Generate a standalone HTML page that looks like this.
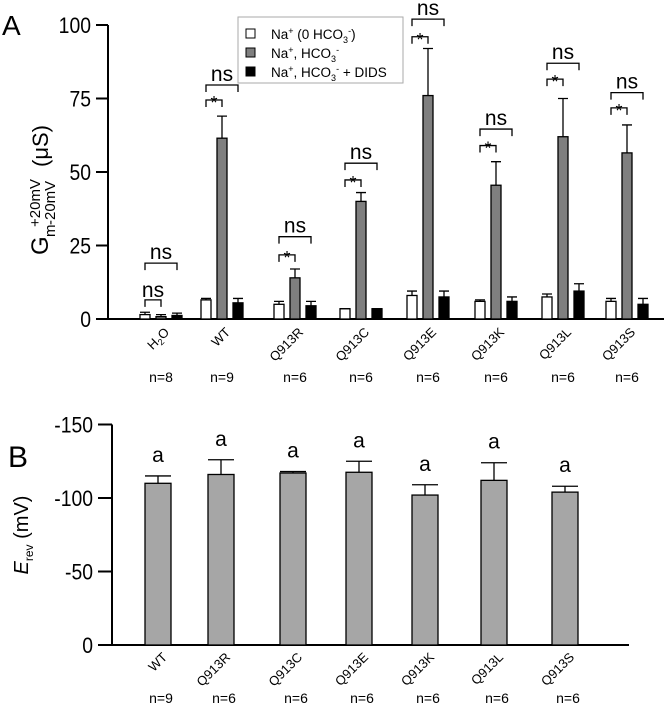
<!DOCTYPE html>
<html><head><meta charset="utf-8">
<style>
body{margin:0;background:#fff;}
svg{display:block;font-family:"Liberation Sans",Arial,sans-serif;}
</style></head>
<body>
<svg id="fig" width="666" height="709" viewBox="0 0 666 709">
<g id="A"></g>
<g id="B"></g>
</svg>
<script>
// Panel A data
const groupsA = ["H2O","WT","Q913R","Q913C","Q913E","Q913K","Q913L","Q913S"];
const nA = ["n=8","n=9","n=6","n=6","n=6","n=6","n=6","n=6"];
const whiteVals = [1.5,6.5,5,3.5,8,6,7.5,6];
const whiteErr = [2.3,7,6,3.5,9.5,6.5,8.5,7];
const grayVals = [0.8,61.5,14,40,76,45.5,62,56.5];
const grayErr = [1.5,69,17,43,92,53.5,75,66];
const blackVals = [1.2,5.5,4.5,3.5,7.5,6,9.5,5];
const blackErr = [2,7,6,3.5,9.5,7.5,12,7];
const starBracket = [6.5,74.5,21.8,47.3,96,59,81.6,71.8];
const nsBracket = [19,79.6,28,53,102,64.6,87,77];
const innerLabel = ["ns","*","*","*","*","*","*","*"];
const ticksA = [0,25,50,75,100];
// Panel B data
const groupsB = ["WT","Q913R","Q913C","Q913E","Q913K","Q913L","Q913S"];
const nB = ["n=9","n=6","n=6","n=6","n=6","n=6","n=6"];
const erevVals = [110,116,117,117.5,102,112,104];
const erevErr = [115,126,118,125,109,124,108];
const sigB = ["a","a","a","a","a","a","a"];
const ticksB = [0,-50,-100,-150];

const NS="http://www.w3.org/2000/svg";
function mk(parent,tag,attrs,text){const e=document.createElementNS(NS,tag);for(const k in attrs)e.setAttribute(k,attrs[k]);if(text!==undefined)e.textContent=text;parent.appendChild(e);return e;}

// ---- Panel A ----
const A=document.getElementById('A');
const yA=v=>319-v*2.94;
const centersA=[161,222,295,361,428,496,563,627];
const xA=i=>centersA[i];
let t;
t=mk(A,'text',{x:2,y:35,'font-size':28});t.textContent='A';

let ax=mk(A,'line',{x1:108,y1:yA(100),x2:108,y2:yA(0),stroke:'#000','stroke-width':2});

ax=mk(A,'line',{x1:96,y1:yA(0),x2:664,y2:yA(0),stroke:'#000','stroke-width':2});

ticksA.forEach(v=>{
  const l=mk(A,'line',{x1:96,y1:yA(v),x2:108,y2:yA(v),stroke:'#000','stroke-width':2});
  
  const tx=mk(A,'text',{x:91,y:yA(v)+8,'font-size':22,'text-anchor':'end',transform:`translate(${91*0.12},0) scale(0.88,1)`},String(v));
  
});
// y title
const yt=mk(A,'g',{transform:'translate(48,175) rotate(-90)'});

mk(yt,'text',{x:-80,y:0,'font-size':24},'G');
mk(yt,'text',{x:-62,y:7,'font-size':15},'m');
mk(yt,'text',{x:-52,y:-8,'font-size':15},'+20mV');
mk(yt,'text',{x:-50,y:7,'font-size':15},'-20mV');
mk(yt,'text',{x:8,y:0,'font-size':22},'(μS)');

function bar(g,x,w,v,err,fill,yfn,name){
  const top=Math.min(yfn(v),yfn(0)),h=Math.abs(yfn(v)-yfn(0));
  const r=mk(g,'rect',{x:x-w/2,y:top,width:w,height:h,fill:fill,stroke:'#000','stroke-width':1.3});
  
  const e=mk(g,'path',{d:`M${x},${yfn(v)}V${yfn(err)}M${x-w/2},${yfn(err)}H${x+w/2}`,stroke:'#000','stroke-width':1.3,fill:'none'});
  
}
groupsA.forEach((gname,i)=>{
  const c=xA(i);
  bar(A,c-16,10,whiteVals[i],whiteErr[i],'#fff',yA,'bar-no-hco3-'+gname.toLowerCase());
  bar(A,c,10,grayVals[i],grayErr[i],'#7f7f7f',yA,'bar-hco3-'+gname.toLowerCase());
  bar(A,c+16,10,blackVals[i],blackErr[i],'#000',yA,'bar-dids-'+gname.toLowerCase());
  const ys=yA(starBracket[i]),yn=yA(nsBracket[i]);
  const b1=mk(A,'path',{d:`M${c-16},${ys+7}V${ys}H${c}V${ys+7}`,stroke:'#000','stroke-width':1.3,fill:'none'});
  
  const star=innerLabel[i]==='*';
  const s1=mk(A,'text',{x:c-8,y:star?ys+9:ys-3,'font-size':star?18:21,'text-anchor':'middle'},innerLabel[i]);
  
  const b2=mk(A,'path',{d:`M${c-16},${yn+7}V${yn}H${c+16}V${yn+7}`,stroke:'#000','stroke-width':1.3,fill:'none'});
  
  const s2=mk(A,'text',{x:c,y:yn-4,'font-size':21,'text-anchor':'middle'},'ns');
  
  const lab=mk(A,'text',{transform:`translate(${c+9},${333}) rotate(-45)`,'font-size':13,'text-anchor':'end'});
  if(gname==='H2O'){lab.innerHTML='H<tspan font-size="9" dy="3">2</tspan><tspan dy="-3">O</tspan>';}else lab.textContent=gname;
  
  const nl=mk(A,'text',{x:c,y:382,'font-size':14,'text-anchor':'middle'},nA[i]);
  
});
// legend
const lg=mk(A,'g',{});

mk(lg,'rect',{x:238,y:17,width:165,height:66,fill:'#fff',stroke:'#aaa','stroke-width':1});
const legFill=['#fff','#7f7f7f','#000'];
const legText=['Na<tspan font-size="9" dy="-5">+</tspan><tspan dy="5">  (0 HCO</tspan><tspan font-size="9" dy="4">3</tspan><tspan font-size="9" dy="-9">-</tspan><tspan dy="5">)</tspan>',
'Na<tspan font-size="9" dy="-5">+</tspan><tspan dy="5">, HCO</tspan><tspan font-size="9" dy="4">3</tspan><tspan font-size="9" dy="-9">-</tspan>',
'Na<tspan font-size="9" dy="-5">+</tspan><tspan dy="5">, HCO</tspan><tspan font-size="9" dy="4">3</tspan><tspan font-size="9" dy="-9">-</tspan><tspan dy="5"> + DIDS</tspan>'];
[34,53,72].forEach((yy,k)=>{
  const e=mk(lg,'g',{});
  
  mk(e,'rect',{x:246,y:yy-5,width:9,height:9,fill:legFill[k],stroke:'#000','stroke-width':1});
  const tx=mk(e,'text',{x:271,y:yy+5,'font-size':13.5,'xml:space':'preserve'});tx.innerHTML=legText[k];
});

// ---- Panel B ----
const B=document.getElementById('B');
const yB=v=>645+v*1.47;
const centersB=[158,221,293,359,425,494,565];
t=mk(B,'text',{x:8,y:467,'font-size':30});t.textContent='B';

ax=mk(B,'line',{x1:112,y1:yB(-150),x2:112,y2:yB(0),stroke:'#000','stroke-width':2});

ax=mk(B,'line',{x1:98,y1:yB(0),x2:629,y2:yB(0),stroke:'#000','stroke-width':2});

ticksB.forEach(v=>{
  const l=mk(B,'line',{x1:98,y1:yB(v),x2:112,y2:yB(v),stroke:'#000','stroke-width':2});
  
  const tx=mk(B,'text',{x:93,y:yB(v)+8,'font-size':22,'text-anchor':'end',transform:`translate(${93*0.12},0) scale(0.88,1)`},String(v));
  
});
const yt2=mk(B,'text',{transform:'translate(28,535) rotate(-90)','font-size':20,'text-anchor':'middle','xml:space':'preserve'});
yt2.innerHTML='<tspan font-style="italic">E</tspan><tspan font-size="12" dy="5">rev</tspan><tspan dy="-5">  (mV)</tspan>';

groupsB.forEach((gname,i)=>{
  const c=centersB[i];
  bar(B,c,26,-erevVals[i],-erevErr[i],'#a6a6a6',yB,'bar-erev-'+gname.toLowerCase());
  const s=mk(B,'text',{x:c,y:yB(-erevErr[i])-14,'font-size':21,'text-anchor':'middle'},sigB[i]);
  
  const lab=mk(B,'text',{transform:`translate(${c+10},${658}) rotate(-45)`,'font-size':13,'text-anchor':'end'},gname);
  
  const nl=mk(B,'text',{x:c+3,y:703,'font-size':14,'text-anchor':'middle'},nB[i]);
  
});
</script>
</body></html>
